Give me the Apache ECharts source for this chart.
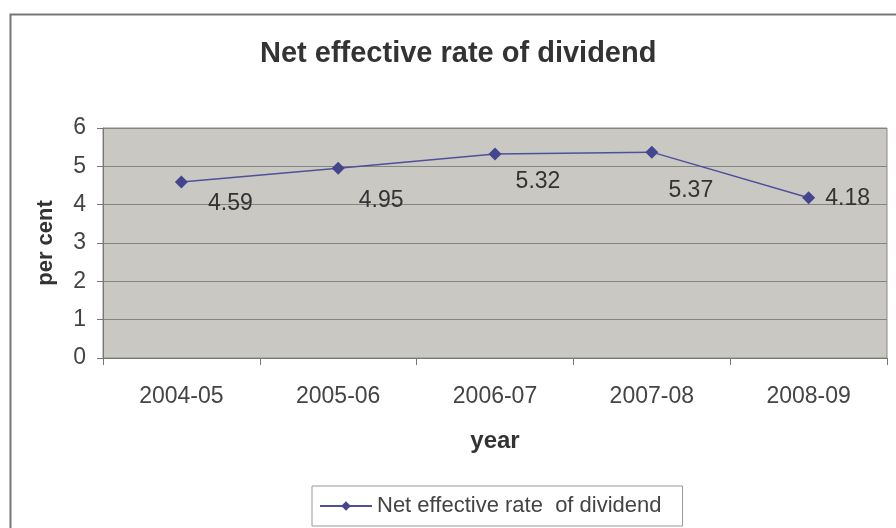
<!DOCTYPE html>
<html><head><meta charset="utf-8">
<script src="https://cdn.jsdelivr.net/npm/echarts@6/dist/echarts.min.js"></script>
<style>html,body{margin:0;padding:0;background:#fff}#c{width:896px;height:528px}</style>
</head><body><div id="c"></div>
<script>
var categories = ['2004-05', '2005-06', '2006-07', '2007-08', '2008-09'];
var values = [4.59, 4.95, 5.32, 5.37, 4.18];
var yTicks = [0, 1, 2, 3, 4, 5, 6];
var seriesName = 'Net effective rate  of dividend';

var labelOffsets = [[49, 22], [43, 32], [43, 28], [39, 39], [39, 1]];

var chart = echarts.init(document.getElementById('c'), null, {renderer: 'canvas'});
chart.setOption({
  animation: false,
  backgroundColor: '#fff',
  title: {
    text: 'Net effective rate of dividend', left: 255, top: 34,
    textStyle: {fontFamily: 'Liberation Sans', fontSize: 29, fontWeight: 'bold', color: '#333'}
  },
  graphic: [{
    type: 'rect', left: 8, top: 12, shape: {width: 900, height: 530},
    style: {fill: 'none', stroke: '#777', lineWidth: 2}, z: 100
  }],
  legend: {
    bottom: 2, left: 312, data: [seriesName],
    itemWidth: 52, itemHeight: 12, itemGap: 6,
    padding: [9, 21, 9, 7],
    borderColor: '#999', borderWidth: 1,
    textStyle: {fontFamily: 'Liberation Sans', fontSize: 22, color: '#444'}
  },
  grid: {left: 103, right: 9, top: 128, bottom: 170, backgroundColor: '#c9c8c3', show: true, borderColor: '#8a8a86', borderWidth: 1},
  xAxis: {
    type: 'category', data: categories, boundaryGap: true,
    name: 'year', nameLocation: 'middle', nameGap: 71,
    nameTextStyle: {fontFamily: 'Liberation Sans', fontSize: 24, fontWeight: 'bold', color: '#333'},
    axisLine: {lineStyle: {color: '#777'}},
    axisTick: {show: true, length: 7, lineStyle: {color: '#777'}},
    axisLabel: {fontFamily: 'Liberation Sans', fontSize: 23, color: '#444', margin: 27}
  },
  yAxis: {
    type: 'value', min: yTicks[0], max: yTicks[yTicks.length - 1], interval: 1,
    name: 'per cent', nameLocation: 'middle', nameGap: 46, nameRotate: 90,
    nameTextStyle: {fontFamily: 'Liberation Sans', fontSize: 22, fontWeight: 'bold', color: '#333'},
    axisLine: {show: true, lineStyle: {color: '#777'}},
    axisTick: {show: true, length: 6, lineStyle: {color: '#777'}},
    axisLabel: {fontFamily: 'Liberation Sans', fontSize: 23, color: '#444', margin: 17},
    splitLine: {lineStyle: {color: '#85857f', width: 1}}
  },
  series: [{
    name: seriesName, type: 'line', symbol: 'diamond', symbolSize: 13,
    itemStyle: {color: '#45458f'}, lineStyle: {color: '#50509a', width: 1.5},
    data: values.map(function (v, i) {
      return {value: v, label: {show: true, position: 'inside', offset: labelOffsets[i], formatter: '{c}',
        fontFamily: 'Liberation Sans', fontSize: 23, color: '#333'}};
    })
  }]
});
</script></body></html>
